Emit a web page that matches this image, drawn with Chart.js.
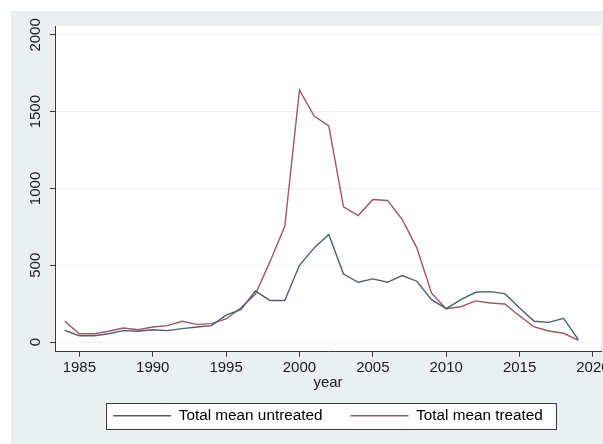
<!DOCTYPE html>
<html>
<head>
<meta charset="utf-8">
<script src="https://cdn.jsdelivr.net/npm/chart.js@4.4.1/dist/chart.umd.min.js"></script>
<style>
  body { margin: 0; background: #fff; }
  canvas { display: block; }
</style>
</head>
<body>
<canvas id="chart" width="603" height="444"></canvas>
<script>
// data
const years = [1984, 1985, 1986, 1987, 1988, 1989, 1990, 1991, 1992, 1993, 1994, 1995,
  1996, 1997, 1998, 1999, 2000, 2001, 2002, 2003, 2004, 2005, 2006, 2007,
  2008, 2009, 2010, 2011, 2012, 2013, 2014, 2015, 2016, 2017, 2018, 2019];
const untreated = [76, 41, 41, 54, 74, 70, 80, 74, 87, 98, 107, 175,
  211, 332, 270, 270, 500, 613, 700, 443, 389, 411, 389, 433,
  396, 276, 217, 276, 324, 328, 315, 222, 135, 128, 154, 15];
const treated = [135, 54, 54, 70, 91, 80, 98, 107, 135, 115, 120, 150,
  222, 312, 525, 754, 1641, 1472, 1407, 880, 824, 928, 922, 798,
  613, 318, 217, 230, 268, 254, 248, 170, 98, 72, 57, 10];
const xTicks = [1985, 1990, 1995, 2000, 2005, 2010, 2015, 2020];
const yTicks = [0, 500, 1000, 1500, 2000];

const font = { family: "'Liberation Sans', Arial, sans-serif", size: 15 };
const legendFont = { family: "'Liberation Sans', Arial, sans-serif", size: 15.3 };
const axisColor = '#3a3a3a';
const textColor = '#1a1a1a';

// Stata-like backgrounds and legend frame
const frame = {
  id: 'frame',
  beforeDraw(chart) {
    const { ctx, chartArea: a } = chart;
    ctx.save();
    ctx.fillStyle = '#eaf0f2';
    ctx.fillRect(11, 11, chart.width - 11, chart.height - 11);
    ctx.fillStyle = '#ffffff';
    ctx.fillRect(a.left, a.top, a.right - a.left, a.bottom - a.top);
    const hb = chart.legend.legendHitBoxes;
    if (hb && hb.length) {
      const last = hb[hb.length - 1];
      const mid = hb[0].top + hb[0].height / 2;
      const x0 = hb[0].left - 7.5;
      const x1 = last.left + last.width + 12.5;
      ctx.fillRect(x0, mid - 13, x1 - x0, 26);
      ctx.strokeStyle = axisColor;
      ctx.lineWidth = 1;
      ctx.strokeRect(Math.round(x0) + 0.5, Math.round(mid - 13) + 0.5, Math.round(x1 - x0), 26);
    }
    ctx.restore();
  }
};

new Chart(document.getElementById('chart'), {
  type: 'line',
  data: {
    datasets: [
      {
        label: 'Total mean untreated',
        data: years.map((y, i) => ({ x: y, y: untreated[i] })),
        borderColor: '#4a6178',
        borderWidth: 1.4,
        pointRadius: 0,
        tension: 0
      },
      {
        label: 'Total mean treated',
        data: years.map((y, i) => ({ x: y, y: treated[i] })),
        borderColor: '#9e5860',
        borderWidth: 1.4,
        pointRadius: 0,
        tension: 0
      }
    ]
  },
  options: {
    responsive: false,
    devicePixelRatio: 1,
    animation: false,
    layout: { autoPadding: false, padding: { left: 11, right: 2, top: 26, bottom: 10.5 } },
    plugins: {
      tooltip: { enabled: false },
      legend: {
        position: 'bottom',
        fullSize: false,
        labels: {
          font: legendFont,
          color: textColor,
          boxWidth: 58,
          boxHeight: 1.5,
          padding: 28,
          generateLabels: chart => chart.data.datasets.map((ds, i) => ({
            text: ds.label,
            fillStyle: ds.borderColor,
            strokeStyle: ds.borderColor,
            lineWidth: 0,
            hidden: false,
            datasetIndex: i
          }))
        }
      }
    },
    scales: {
      x: {
        type: 'linear',
        min: 1983.34,
        max: 2020.55,
        afterBuildTicks: s => { s.ticks = xTicks.map(v => ({ value: v })); },
        // the 2020 label runs off the edge as in the original, so no extra margin for it
        afterFit: s => { s.height = 28.5; s.paddingLeft = 0; s.paddingRight = 0; },
        grid: { drawOnChartArea: false, tickLength: 5, tickColor: axisColor },
        border: { color: axisColor, width: 1 },
        ticks: { font: font, color: textColor, padding: 2, maxRotation: 0, autoSkip: false, callback: v => String(v) },
        title: { display: true, text: 'year', font: font, color: textColor, padding: { top: 0, bottom: -11.2 } }
      },
      y: {
        min: -63,
        max: 2058,
        afterBuildTicks: s => { s.ticks = yTicks.map(v => ({ value: v })); },
        afterFit: s => { s.width = 44; s.paddingTop = 0; s.paddingBottom = 0; },
        grid: { color: '#edf1f3', lineWidth: 1, tickLength: 5, tickColor: axisColor },
        border: { color: axisColor, width: 1 },
        ticks: { font: font, color: textColor, padding: -3, minRotation: 90, maxRotation: 90, crossAlign: 'center', callback: v => String(v) }
      }
    }
  },
  plugins: [frame]
});
</script>
</body>
</html>
